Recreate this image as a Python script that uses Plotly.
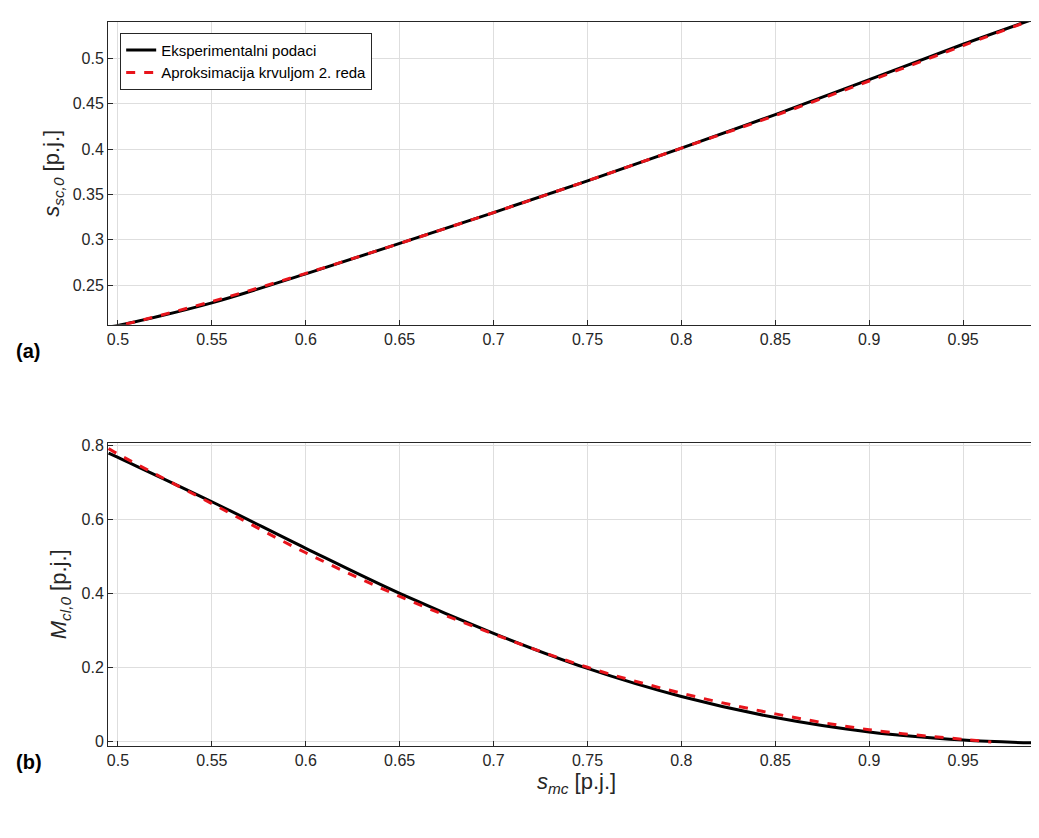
import plotly.graph_objects as go

x_exp = [0.495, 0.5, 0.55, 0.6, 0.65, 0.7, 0.75, 0.8, 0.85, 0.9, 0.95, 0.99]
s_exp = [0.204, 0.2055, 0.2305, 0.2625, 0.296, 0.330, 0.365, 0.401, 0.438, 0.4765, 0.5155, 0.545]
s_fit = [0.203, 0.205, 0.232, 0.263, 0.296, 0.330, 0.365, 0.401, 0.437, 0.475, 0.514, 0.545]
m_exp = [0.780, 0.768, 0.648, 0.522, 0.400, 0.292, 0.197, 0.121, 0.064, 0.025, 0.003, -0.005]
x_fit2 = [0.495, 0.5, 0.55, 0.6, 0.65, 0.7, 0.75, 0.8, 0.85, 0.9, 0.95, 0.965]
m_fit = [0.792, 0.777, 0.643, 0.510, 0.392, 0.290, 0.200, 0.130, 0.074, 0.031, 0.005, -0.002]

xt = [0.5, 0.55, 0.6, 0.65, 0.7, 0.75, 0.8, 0.85, 0.9, 0.95]
xtl = ["0.5", "0.55", "0.6", "0.65", "0.7", "0.75", "0.8", "0.85", "0.9", "0.95"]

fig = go.Figure()
fig.add_trace(go.Scatter(x=x_exp, y=s_exp, mode="lines", line=dict(color="black", width=3, shape="spline"),
                         name="Eksperimentalni podaci", xaxis="x", yaxis="y"))
fig.add_trace(go.Scatter(x=x_exp, y=s_fit, mode="lines", line=dict(color="#e8141b", width=3, dash="dash", shape="spline"),
                         name="Aproksimacija krvuljom 2. reda", xaxis="x", yaxis="y"))
fig.add_trace(go.Scatter(x=x_exp, y=m_exp, mode="lines", line=dict(color="black", width=3, shape="spline"),
                         showlegend=False, xaxis="x2", yaxis="y2"))
fig.add_trace(go.Scatter(x=x_fit2, y=m_fit, mode="lines", line=dict(color="#e8141b", width=3, dash="dash", shape="spline"),
                         showlegend=False, xaxis="x2", yaxis="y2"))

ax = dict(showline=True, linecolor="#262626", mirror=True, linewidth=1, gridcolor="#dedede",
          ticks="inside", ticklen=5, tickcolor="#262626", zeroline=False, automargin=False,
          tickfont=dict(family="Liberation Sans, Arial", size=16, color="#262626"))
xr = [0.4947, 0.9936]
fig.update_layout(
    width=1039, height=838, plot_bgcolor="white", paper_bgcolor="white",
    margin=dict(l=100, r=2, t=14, b=100),
    font=dict(family="Liberation Sans, Arial", color="#262626"),
    xaxis=dict(ax, domain=[0, 1], range=xr, tickvals=xt, ticktext=xtl, anchor="y"),
    yaxis=dict(ax, domain=[0.582, 1], range=[0.2065, 0.540], tickvals=[0.25, 0.3, 0.35, 0.4, 0.45, 0.5],
               ticktext=["0.25", "0.3", "0.35", "0.4", "0.45", "0.5"], anchor="x",
               title=dict(text="<i>s</i><sub><i>sc,0</i></sub> [p.j.]", font=dict(size=22), standoff=6)),
    xaxis2=dict(ax, domain=[0, 1], range=xr, tickvals=xt, ticktext=xtl, anchor="y2",
                title=dict(text="<i>s</i><sub><i>mc</i></sub> [p.j.]", font=dict(size=22), standoff=4)),
    yaxis2=dict(ax, domain=[0, 0.419], range=[-0.013, 0.808], tickvals=[0, 0.2, 0.4, 0.6, 0.8],
                ticktext=["0", "0.2", "0.4", "0.6", "0.8"], anchor="x2",
                title=dict(text="<i>M</i><sub><i>cl,0</i></sub> [p.j.]", font=dict(size=22), standoff=8)),
    legend=dict(x=0.013, y=0.985, xanchor="left", yanchor="top", bgcolor="white",
                bordercolor="#262626", borderwidth=1, font=dict(size=15, color="black"),
                tracegroupgap=0),
    annotations=[
        dict(text="<b>(a)</b>", x=-0.1, y=0.545, xref="paper", yref="paper", showarrow=False,
             xanchor="left", font=dict(size=20, color="black")),
        dict(text="<b>(b)</b>", x=-0.1, y=-0.04, xref="paper", yref="paper", showarrow=False,
             xanchor="left", font=dict(size=20, color="black")),
    ],
)
fig.write_html("out.html")
